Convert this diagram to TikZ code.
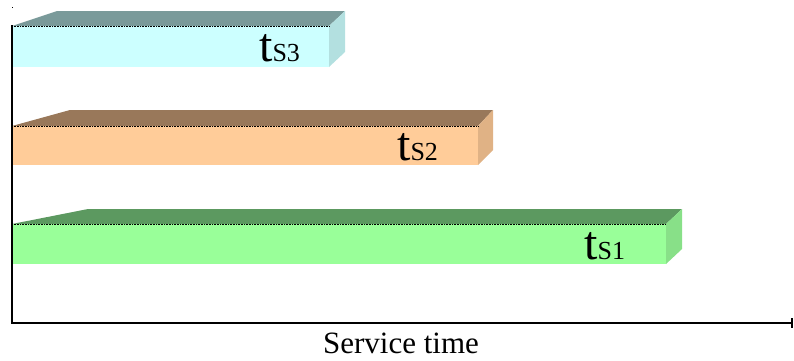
\documentclass[tikz,border=0pt]{standalone}
\usepackage{fontspec}
\setmainfont{Liberation Serif}
\begin{document}
\begin{tikzpicture}[x=1pt,y=-1pt,
  axis/.style={line width=2pt,black},
  lbl/.style={anchor=base west,inner sep=0pt,text=black},
  edge/.style={black,line width=0.5pt,dash pattern=on 1pt off 0.6pt}]
\useasboundingbox (0,0) rectangle (794,360);
\newcommand{\tsl}[1]{{\fontsize{48}{48}\selectfont t}{\fontsize{26}{26}\selectfont S#1}}
% bar 3 (cyan)
\fill[fill={rgb,255:red,122;green,154;blue,154}] (12,26) -- (57,11) -- (345,11) -- (329,26) -- cycle;
\fill[fill={rgb,255:red,204;green,255;blue,255}] (12,26) rectangle (329,67);
\fill[fill={rgb,255:red,179;green,224;blue,224}] (329,26) -- (345,11) -- (345,52) -- (329,67) -- cycle;
\draw[edge] (12,26) -- (329,26);
% bar 2 (orange)
\fill[fill={rgb,255:red,153;green,120;blue,90}] (12,126) -- (70,110) -- (493,110) -- (478,126) -- cycle;
\fill[fill={rgb,255:red,255;green,204;blue,153}] (12,126) rectangle (478,165);
\fill[fill={rgb,255:red,224;green,178;blue,133}] (478,126) -- (493,110) -- (493,150) -- (478,165) -- cycle;
\draw[edge] (12,126) -- (478,126);
% bar 1 (green)
\fill[fill={rgb,255:red,92;green,153;blue,96}] (12,224) -- (88,209) -- (682,209) -- (666,224) -- cycle;
\fill[fill={rgb,255:red,153;green,255;blue,153}] (12,224) rectangle (666,264);
\fill[fill={rgb,255:red,136;green,224;blue,136}] (666,224) -- (682,209) -- (682,249) -- (666,264) -- cycle;
\draw[edge] (12,224) -- (666,224);
% labels
\node[lbl] (l3) at (259,61) {\tsl{3}};
\node[lbl] (l2) at (397,160) {\tsl{2}};
\node[lbl] (l1) at (584,259) {\tsl{1}};
% axes
\coordinate (top) at (12,26);
\coordinate (origin) at (12,323);
\coordinate (xend) at (792,323);
\draw[axis,line cap=rect] (top) -- (origin) -- (xend);
\draw[line width=1.5pt] (792,318) -- (792,328);
\fill (11.5,7) rectangle (13,8);
\node[anchor=base,inner sep=0pt,font=\fontsize{31}{31}\selectfont] (xl) at (401,353) {Service time};
\end{tikzpicture}
\end{document}
